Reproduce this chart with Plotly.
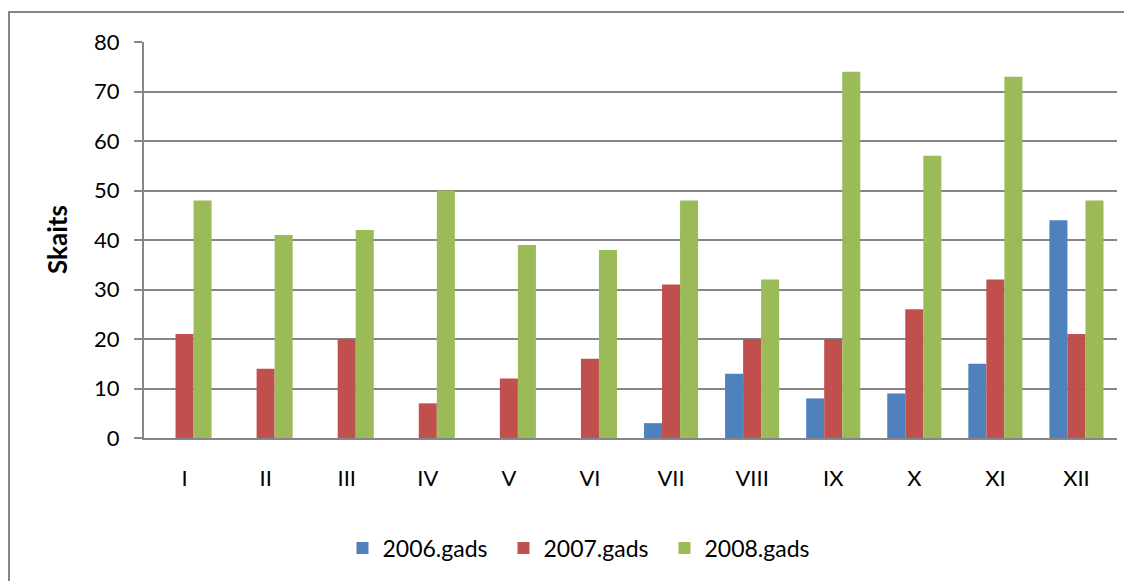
import plotly.graph_objects as go

months = ["I", "II", "III", "IV", "V", "VI", "VII", "VIII", "IX", "X", "XI", "XII"]
y2006 = [0, 0, 0, 0, 0, 0, 3, 13, 8, 9, 15, 44]
y2007 = [21, 14, 20, 7, 12, 16, 31, 20, 20, 26, 32, 21]
y2008 = [48, 41, 42, 50, 39, 38, 48, 32, 74, 57, 73, 48]
series_names = ["2006.gads", "2007.gads", "2008.gads"]
colors = ["#4F81BD", "#C0504D", "#9BBB59"]

fig = go.Figure()
for name, vals, c in zip(series_names, [y2006, y2007, y2008], colors):
    fig.add_trace(go.Bar(x=months, y=vals, name=name, marker=dict(color=c, line=dict(width=0))))

OFF = 8  # page body margin
W, H = 1132 - OFF, 581 - OFF
L, T = 144 - OFF, 42 - OFF
R = W - (1117 - OFF)
B = H - (438 - OFF)
pw = W - L - R
ph = H - T - B

font = dict(family="Lato, Open Sans, sans-serif", size=22, color="black")
fig.update_layout(
    width=W, height=H,
    margin=dict(l=L, r=R, t=T, b=B, autoexpand=False),
    paper_bgcolor="white", plot_bgcolor="white",
    barmode="group", bargap=0.333, bargroupgap=0,
    font=font,
    legend=dict(orientation="h", x=(584 - 144) / pw, xanchor="center",
                y=(438 - 548) / ph, yanchor="middle", font=dict(size=23),
                entrywidth=116, entrywidthmode="pixels", tracegroupgap=0),
    showlegend=True,
)
fig.update_xaxes(showline=True, linecolor="#868686", linewidth=2, ticks="",
                 showgrid=False, tickfont=font, ticklabelstandoff=20)
fig.update_yaxes(range=[0, 80], dtick=10, showline=True, linecolor="#868686", linewidth=2,
                 ticks="outside", ticklen=8, tickcolor="#868686", tickwidth=2,
                 showgrid=True, gridcolor="#868686", gridwidth=2, zeroline=False,
                 tickfont=font, ticklabelstandoff=10)

fig.add_annotation(text="<b>Skaits</b>", x=(57 - 144) / pw, y=(438 - 240) / ph,
                   xref="paper", yref="paper", xanchor="center", yanchor="middle",
                   textangle=-90, showarrow=False,
                   font=dict(family="Lato, Open Sans, sans-serif", size=26, color="black"))

# outer chart border (page x=7, y=12 -> figure x~1, y~4)
fig.add_shape(type="rect", xref="paper", yref="paper",
              x0=(1 - L) / pw, x1=1.2, y0=-0.6, y1=(ph + T - 4) / ph,
              line=dict(color="#878787", width=2), layer="below")

fig.write_html("out.html")
